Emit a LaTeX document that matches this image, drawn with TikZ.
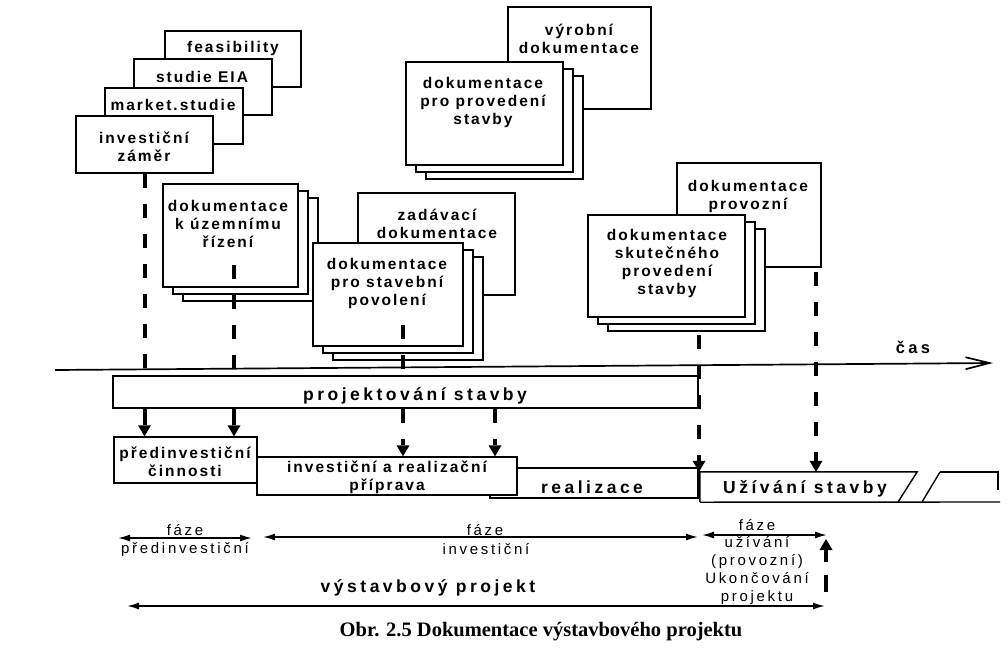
\documentclass[tikz,border=0pt]{standalone}
\usepackage{fontspec}
\setmainfont{Liberation Serif}
\newfontfamily\docfont{Liberation Sans}[LetterSpace=13]
\newfontfamily\widefont{Liberation Sans}[LetterSpace=20]
\newfontfamily\phasefont{Liberation Sans}[LetterSpace=18]
\usetikzlibrary{arrows.meta,shadows,calc}
\pgfdeclarelayer{back}
\pgfdeclarelayer{front}
\pgfdeclarelayer{top}
\pgfsetlayers{back,main,front,top}

\tikzset{
  sheet/.style={draw, line width=1.4pt, fill=white, inner sep=0pt},
  pile/.style={sheet,
    copy shadow={shadow xshift=20pt, shadow yshift=-14pt, draw, fill=white, line width=1.4pt},
    copy shadow={shadow xshift=10pt, shadow yshift=-7pt, draw, fill=white, line width=1.4pt}},
  doctext/.style={font=\docfont\bfseries\fontsize{15.5}{18}\selectfont, align=center, inner sep=0pt},
  bigtext/.style={font=\widefont\bfseries\fontsize{17.5}{20}\selectfont, inner sep=0pt},
  phasetext/.style={font=\phasefont\fontsize{15}{18}\selectfont, align=center, inner sep=0pt},
  dline/.style={line width=4pt, dash pattern=on 14pt off 16pt},
  headend/.style={-{Triangle[length=11pt,width=13pt,line width=0pt]}},
  darrow/.style={dline, headend},
  sarrow/.style={line width=4pt, headend},
  phasearrow/.style={line width=1.6pt, {Latex[length=12pt,width=7pt]}-{Latex[length=12pt,width=7pt]}},
  timeaxis/.style={line width=1.7pt, -{Straight Barb[length=24pt,width=12pt,line width=1.7pt]}},
}

\begin{document}
\begin{tikzpicture}[x=1pt, y=-1pt]
\useasboundingbox (0,0) rectangle (1008,648);
\fill[white] (0,0) rectangle (1008,648);

% --- design documents, upper middle
\node[sheet, minimum width=143pt, minimum height=102pt] (vyr) at (579.5,58) {};
\node[doctext] (vyrT) at (579,39) {výrobní\\dokumentace};
\node[pile, minimum width=157pt, minimum height=103pt] (prov) at (484.5,113.5) {};
\node[doctext] (provT) at (483,102) {dokumentace\\pro provedení\\stavby};

% --- pre-investment studies
\node[sheet, minimum width=136pt, minimum height=56pt] (feas) at (233,59) {};
\node[doctext] (feasT) at (233,48) {feasibility};
\node[sheet, minimum width=138pt, minimum height=56pt] (eia) at (203,87) {};
\node[doctext] (eiaT) at (202,77) {studie EIA};
\node[sheet, minimum width=138pt, minimum height=56pt] (market) at (174,116) {};
\node[doctext] (marketT) at (173,105) {market.studie};
\node[sheet, minimum width=137pt, minimum height=57pt] (zamer) at (144.5,144.5) {};
\node[doctext] (zamerT) at (144,147) {investiční\\záměr};

% --- permit documents
\node[pile, minimum width=135pt, minimum height=103pt] (uzem) at (230.5,235.5) {};
\node[doctext] (uzemT) at (228,224) {dokumentace\\k územnímu\\řízení};
\node[sheet, minimum width=157pt, minimum height=102pt] (zad) at (436.5,244) {};
\node[doctext] (zadT) at (437,224) {zadávací\\dokumentace};
\node[pile, minimum width=150pt, minimum height=103pt] (stav) at (388,294.5) {};
\node[doctext] (stavT) at (387,283) {dokumentace\\pro stavební\\povolení};

% --- operation documents
\node[sheet, minimum width=144pt, minimum height=104pt] (provoz) at (749,215) {};
\node[doctext] (provozT) at (748,196) {dokumentace\\provozní};
\node[pile, minimum width=157pt, minimum height=102pt] (skut) at (666.5,266) {};
\node[doctext] (skutT) at (667,263) {dokumentace\\skutečného\\provedení\\stavby};

% --- time axis
\coordinate (t0) at (55,370);
\coordinate (t1) at (993,363);
\draw[timeaxis] (t0) -- (t1);
\node[bigtext, font=\widefont\bfseries\fontsize{16.5}{18}\selectfont] (cas) at (913,347) {čas};

% --- project phases
\begin{pgfonlayer}{top}
\node[sheet, minimum width=585pt, minimum height=32pt] (projekt) at (405.5,392) {};
\node[bigtext] (projektT) at (415,396) {projektování stavby};
\end{pgfonlayer}

\node[sheet, minimum width=208pt, minimum height=30pt] (real) at (594,483) {};
\node[bigtext] (realT) at (592,487) {realizace};
\node[sheet, minimum width=260pt, minimum height=38pt] (invrp) at (387,476) {};
\node[doctext] (invrpT) at (387,477) {investiční a realizační\\příprava};
\node[sheet, minimum width=143pt, minimum height=46pt] (pred) at (185.5,460) {};
\node[doctext] (predT) at (185,462) {předinvestiční\\činnosti};

\node[inner sep=0pt, minimum width=217pt, minimum height=30pt] (uziv) at (808.5,487) {};
\draw[line width=1.4pt] (uziv.south west) -- (uziv.north west) -- (uziv.north east) -- (898,502);
\draw[line width=1.4pt] (940,472) -- (922,502);
\draw[line width=1.4pt] (940,472) -- (998,472) -- (998,490);
\draw[line width=1.4pt] (uziv.south west) -- (1000,502);
\node[bigtext] (uzivT) at (805,489) {Užívání stavby};

% --- links from documents to phases
\coordinate (s2) at (234,265);
\coordinate (s3) at (403,325);
\coordinate (s4) at (495,170);
\coordinate (s5) at (699,335);
\coordinate (s6) at (816,272);

\begin{pgfonlayer}{back}
\draw[dline] (s4) -- (s4 |- projekt.north);
\end{pgfonlayer}

\begin{pgfonlayer}{front}
\draw[dline] (zamer.south) -- (zamer.south |- projekt.north);
\draw[sarrow] (zamer.south |- projekt.south) -- (zamer.south |- pred.north);
\draw[dline] (s2) -- (s2 |- projekt.north);
\draw[sarrow] (s2 |- projekt.south) -- (s2 |- pred.north);
\draw[dline] (s3) -- (s3 |- projekt.north);
\draw[darrow] (s3 |- projekt.south) -- (s3 |- invrp.north);
\draw[darrow] (s4 |- projekt.south) -- (s4 |- invrp.north);
\draw[darrow] (s5) -- (s5 |- uziv.north);
\draw[darrow] (s6) -- (s6 |- uziv.north);
\end{pgfonlayer}

% --- phase spans
\coordinate (a0) at (118,538);
\coordinate (a1) at (252,538);
\coordinate (b0) at (263,537);
\coordinate (b1) at (698,537);
\coordinate (c0) at (702,535);
\coordinate (c1) at (827,535);
\coordinate (d0) at (127,606);
\coordinate (d1) at (825,606);
\coordinate (e0) at (826,592);
\coordinate (e1) at (826,539);
\draw[phasearrow] (a0) -- (a1);
\draw[phasearrow] (b0) -- (b1);
\draw[phasearrow] (c0) -- (c1);
\draw[phasearrow] (d0) -- (d1);
\draw[line width=3.6pt, dash pattern=on 17pt off 13pt, headend] (e0) -- (e1);

\node[phasetext] (fa1) at (185,530) {fáze};
\node[phasetext] (fa2) at (185,550) {předinvestiční};
\node[phasetext] (fb1) at (485,530) {fáze};
\node[phasetext] (fb2) at (486,549) {investiční};
\node[phasetext] (fc1) at (757,525) {fáze};
\node[phasetext] (fc2) at (757,571) {užívání\\(provozní)\\Ukončování\\projektu};
\node[bigtext] (vp) at (428,588) {výstavbový projekt};

\node[font=\bfseries\fontsize{20.5}{24}\selectfont, inner sep=0pt] (caption) at (541,632) {Obr. 2.5 Dokumentace výstavbového projektu};
\end{tikzpicture}
\end{document}
